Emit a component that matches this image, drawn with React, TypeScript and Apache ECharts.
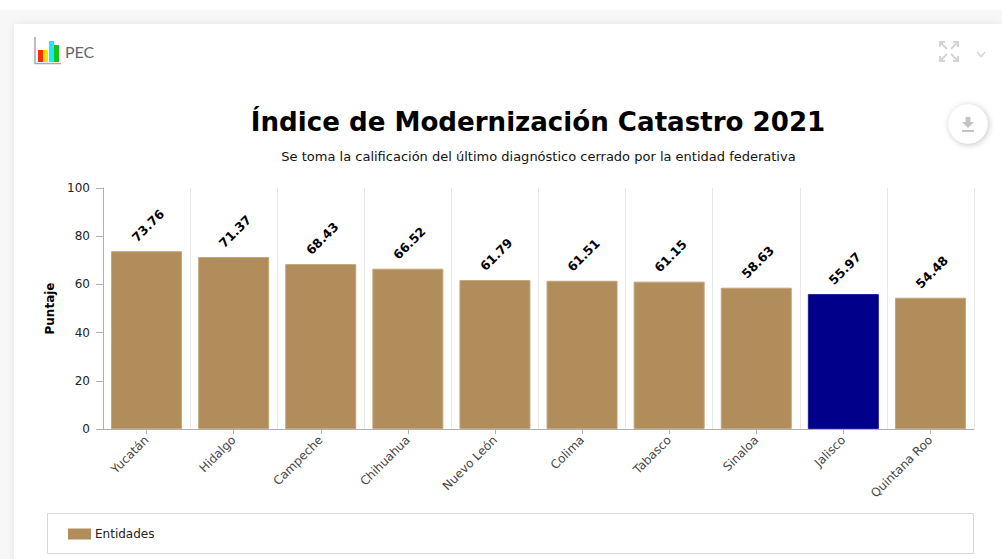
import React, { useEffect, useRef } from "react";
import * as echarts from "echarts";

const categories = ["Yucatán", "Hidalgo", "Campeche", "Chihuahua", "Nuevo León", "Colima", "Tabasco", "Sinaloa", "Jalisco", "Quintana Roo"];
const scores = [73.76, 71.37, 68.43, 66.52, 61.79, 61.51, 61.15, 58.63, 55.97, 54.48];
const highlighted = "Jalisco";
const BROWN = "#b08d5b";
const BROWN_EDGE = "#c2a57c";
const NAVY = "#00008b";
const NAVY_EDGE = "#1c1c9a";
const FONT = "'DejaVu Sans', sans-serif";

export default function App() {
  const ref = useRef<HTMLDivElement>(null);
  useEffect(() => {
    const chart = echarts.init(ref.current!, null, { renderer: "svg" });
    const gray = { stroke: "#d4d4d4", lineWidth: 2, fill: "none" };
    const option: any = {
      animation: false,
      backgroundColor: "transparent",
      title: [
        { text: "Índice de Modernización Catastro 2021", left: 533, top: 104, textAlign: "center",
          textStyle: { fontFamily: FONT, fontSize: 26.1, fontWeight: "bold", color: "#000" } },
        { text: "Se toma la calificación del último diagnóstico cerrado por la entidad federativa", left: 533.5, top: 145, textAlign: "center",
          textStyle: { fontFamily: FONT, fontSize: 13, fontWeight: "normal", color: "#111" } },
      ],
      grid: { left: 103, top: 188, width: 871, height: 241 },
      legend: {
        left: 63, top: 523, itemWidth: 23, itemHeight: 11, itemGap: 5, icon: "rect",
        data: [{ name: "Entidades", itemStyle: { color: BROWN } }],
        textStyle: { fontFamily: FONT, fontSize: 12, color: "#222", padding: [0, 0, 0, -1] },
        selectedMode: false,
      },
      xAxis: {
        type: "category",
        data: categories,
        axisLine: { lineStyle: { color: "#b0b0b0", width: 1 } },
        axisTick: { show: true, alignWithLabel: true, length: 5, lineStyle: { color: "#b0b0b0" } },
        splitLine: { show: true, lineStyle: { color: "#e8e8e8", width: 1 } },
        axisLabel: { rotate: 45, interval: 0, margin: 9, fontFamily: FONT, fontSize: 12, color: "#444" },
      },
      yAxis: {
        type: "value", min: 0, max: 100, interval: 20,
        name: "Puntaje", nameLocation: "middle", nameGap: 41, nameRotate: 90,
        nameTextStyle: { fontFamily: FONT, fontSize: 12, fontWeight: "bold", color: "#000" },
        axisLine: { show: true, lineStyle: { color: "#b0b0b0", width: 1 } },
        axisTick: { show: true, length: 7, lineStyle: { color: "#b0b0b0" } },
        splitLine: { show: false },
        axisLabel: { margin: 13, fontFamily: FONT, fontSize: 12, color: "#222" },
      },
      series: [{
        type: "bar",
        name: "Entidades",
        barWidth: 71,
        data: scores.map((v, i) => {
          const isHighlighted = categories[i] === highlighted;
          return {
            value: v,
            itemStyle: {
              color: isHighlighted ? NAVY : BROWN,
              borderColor: isHighlighted ? NAVY_EDGE : BROWN_EDGE,
              borderWidth: 1,
            },
          };
        }),
        label: {
          show: true, position: "top", rotate: 45, distance: 8, offset: [13.5, -5],
          fontFamily: FONT, fontSize: 12.5, fontWeight: "bold", color: "#000",
          formatter: (p: any) => p.value.toFixed(2),
        },
      }],
      graphic: [
        { type: "rect", silent: true, shape: { x: 47.5, y: 513.5, width: 926, height: 40 }, style: { fill: "#fff", stroke: "#d8d8d8", lineWidth: 1 }, z: -1 },
        // PEC logo
        { type: "line", shape: { x1: 35, y1: 37, x2: 35, y2: 64 }, style: { stroke: "#a8a8a8", lineWidth: 1.5 } },
        { type: "line", shape: { x1: 35, y1: 63.5, x2: 61, y2: 63.5 }, style: { stroke: "#a8a8a8", lineWidth: 1.5 } },
        { type: "rect", shape: { x: 38, y: 50, width: 5, height: 12 }, style: { fill: "#ff2a10" } },
        { type: "rect", shape: { x: 43, y: 50, width: 5, height: 12 }, style: { fill: "#ffe000" } },
        { type: "rect", shape: { x: 49, y: 41, width: 5, height: 21 }, style: { fill: "#10f0f0" } },
        { type: "rect", shape: { x: 54, y: 45, width: 5, height: 17 }, style: { fill: "#18c018" } },
        { type: "text", x: 65, y: 43, style: { text: "PEC", fontFamily: "Lato, sans-serif", fontSize: 16, fill: "#5f6670" } },
        // fullscreen icon
        { type: "polyline", shape: { points: [[940, 47], [940, 42], [945, 42]] }, style: gray },
        { type: "line", shape: { x1: 940, y1: 42, x2: 947, y2: 49 }, style: gray },
        { type: "polyline", shape: { points: [[953, 42], [958, 42], [958, 47]] }, style: gray },
        { type: "line", shape: { x1: 958, y1: 42, x2: 951, y2: 49 }, style: gray },
        { type: "polyline", shape: { points: [[940, 56], [940, 61], [945, 61]] }, style: gray },
        { type: "line", shape: { x1: 940, y1: 61, x2: 947, y2: 54 }, style: gray },
        { type: "polyline", shape: { points: [[953, 61], [958, 61], [958, 56]] }, style: gray },
        { type: "line", shape: { x1: 958, y1: 61, x2: 951, y2: 54 }, style: gray },
        // chevron
        { type: "polyline", shape: { points: [[977, 52], [981, 56.5], [985, 52]] }, style: { stroke: "#d4d4d4", lineWidth: 1.5, fill: "none" } },
        // download button
        { type: "circle", shape: { cx: 968, cy: 124, r: 19.5 }, style: { fill: "#fff", shadowBlur: 6, shadowColor: "rgba(0,0,0,0.25)", shadowOffsetX: 1, shadowOffsetY: 1 } },
        { type: "polygon", shape: { points: [[965.5, 117], [970.5, 117], [970.5, 122], [974, 122], [968, 128], [962, 122], [965.5, 122]] }, style: { fill: "#c4c4c4" } },
        { type: "rect", shape: { x: 962, y: 130, width: 12, height: 2 }, style: { fill: "#c4c4c4" } },
      ],
    };
    chart.setOption(option);
    return () => chart.dispose();
  }, []);
  return (
    <div style={{ position: "absolute", left: 0, top: 0, width: 1002, height: 559, overflow: "hidden", background: "#fff" }}>
      <div style={{ position: "absolute", left: 0, top: 10, width: 1002, height: 549, background: "#f7f7f7" }} />
      <div style={{ position: "absolute", left: 14, top: 24, width: 988, height: 560, background: "#fff", boxShadow: "0 0 8px rgba(0,0,0,0.08)" }} />
      <div ref={ref} style={{ position: "absolute", left: 0, top: 0, width: 1002, height: 559 }} />
    </div>
  );
}
